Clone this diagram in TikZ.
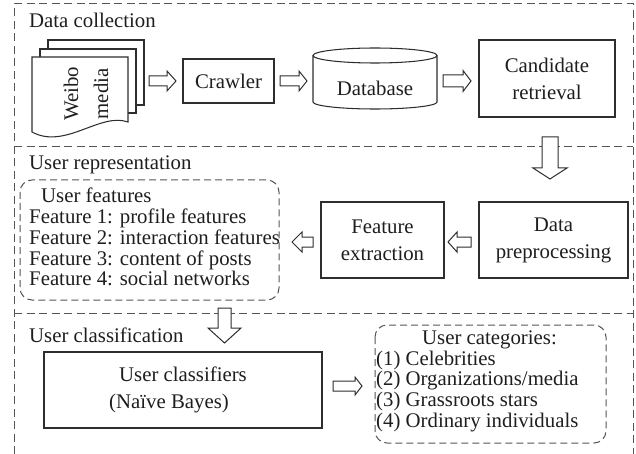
\documentclass[tikz,border=0pt]{standalone}
\usepackage{fontspec}
\setmainfont{Liberation Serif}
\definecolor{lnc}{HTML}{2E2E2E}
\definecolor{dsh}{HTML}{555555}
\definecolor{txt}{HTML}{1E1E1E}
\newcommand\RArrow[6]{%
  \draw[barrow] ({#1},{#3-#4}) -- ({#2-#6},{#3-#4}) -- ({#2-#6},{#3-#5}) -- ({#2},{#3})
    -- ({#2-#6},{#3+#5}) -- ({#2-#6},{#3+#4}) -- ({#1},{#3+#4}) -- cycle;}
\newcommand\LArrow[6]{%
  \draw[barrow] ({#2},{#3-#4}) -- ({#1+#6},{#3-#4}) -- ({#1+#6},{#3-#5}) -- ({#1},{#3})
    -- ({#1+#6},{#3+#5}) -- ({#1+#6},{#3+#4}) -- ({#2},{#3+#4}) -- cycle;}
\newcommand\DArrow[6]{%
  \draw[barrow] ({#1-#4},{#2}) -- ({#1-#4},{#3-#6}) -- ({#1-#5},{#3-#6}) -- ({#1},{#3})
    -- ({#1+#5},{#3-#6}) -- ({#1+#4},{#3-#6}) -- ({#1+#4},{#2}) -- cycle;}
\tikzset{
  every node/.style={font=\fontsize{20.8}{27}\selectfont, text=txt, inner sep=0pt},
  box/.style={draw=lnc, line width=1.05pt, fill=white},
  dbox/.style={draw=dsh, line width=1pt, dash pattern=on 8pt off 4.5pt},
  rbox/.style={draw=dsh, line width=1pt, dash pattern=on 7pt off 4pt, rounded corners=12pt},
  barrow/.style={draw=lnc, line width=1pt, fill=white, line join=miter},
  listtext/.style={align=left, anchor=north west, font=\fontsize{20.8}{20.75}\selectfont},
}
\begin{document}
\begin{tikzpicture}[x=1pt,y=-1pt]
\useasboundingbox (0,0) rectangle (636,454);
% section frames
\draw[dbox] (14,454) -- (14,4) -- (633,4) -- (633,454);
\draw[dbox] (14,147) -- (633,147);
\draw[dbox] (14,313) -- (633,313);
\node[anchor=base west] (lcol) at (29,28) {Data collection};
\node[anchor=base west] (lrep) at (29,170) {User representation};
\node[anchor=base west] (lcla) at (29,342) {User classification};
% Weibo media document stack
\draw[box] (48,40) rectangle (144,105);
\draw[box] (40,49) rectangle (136,113);
\draw[box] (32,57) -- (128,57) -- (128,122) .. controls (100,112) and (65,150) .. (32,132) -- cycle;
\node[rotate=90, align=center, font=\fontsize{20.8}{30}\selectfont] (weibo) at (86,94) {Weibo\\media};
% crawler
\node[box, minimum width=91pt, minimum height=44pt] (crawler) at (228.5,81) {Crawler};
% database
\draw[box] (313,55.5) -- (313,102) arc[start angle=180, end angle=360, x radius=62pt, y radius=7pt] -- (437,55.5);
\draw[box] (375,55.5) ellipse [x radius=62pt, y radius=7.5pt];
\node (db) at (375,88.5) {Database};
% candidate retrieval
\node[box, minimum width=136pt, minimum height=77pt, align=center] (cand) at (547,78.5) {Candidate\\retrieval};
% representation
\node[box, minimum width=149pt, minimum height=76pt, align=center] (prep) at (553.5,240) {Data\\preprocessing};
\node[box, minimum width=123pt, minimum height=76pt, align=center] (fext) at (382.5,240) {Feature\\extraction};
\draw[rbox] (20,180) rectangle (279,300);
\node[listtext] (feat) at (29,188) {\hspace*{12pt}User features\\Feature 1: profile features\\Feature 2: interaction features\\Feature 3: content of posts\\Feature 4: social networks};
% classification
\node[box, minimum width=278pt, minimum height=76pt, align=center] (clf) at (183,390) {User classifiers\\(Naïve Bayes)\hspace*{28pt}};
\draw[rbox] (375,325) rectangle (606,443);
\node[listtext] (cats) at (376,330.4) {\hspace*{46pt}User categories:\\(1) Celebrities\\(2) Organizations/media\\(3) Grassroots stars\\(4) Ordinary individuals};
% block arrows
\RArrow{149}{176}{81}{5}{10}{9}
\RArrow{280}{307}{81}{5}{10}{8}
\RArrow{443}{471}{81}{6}{10.5}{8}
\DArrow{550}{137}{179}{8}{17}{11}
\LArrow{448}{471}{242}{5}{10}{9}
\LArrow{292}{313}{242}{5}{10}{10}
\DArrow{224.5}{308}{343}{6.5}{16.5}{15}
\RArrow{333}{362}{386}{5}{9}{7}
\end{tikzpicture}
\end{document}
